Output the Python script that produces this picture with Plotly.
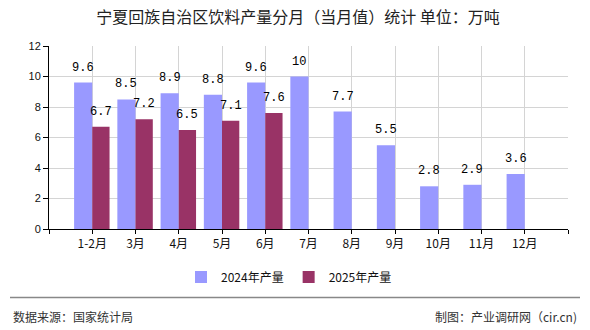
import plotly.graph_objects as go

categories = ["1-2月", "3月", "4月", "5月", "6月", "7月", "8月", "9月", "10月", "11月", "12月"]
values_2024 = [9.6, 8.5, 8.9, 8.8, 9.6, 10, 7.7, 5.5, 2.8, 2.9, 3.6]
values_2025 = [6.7, 7.2, 6.5, 7.1, 7.6]
series_names = ["2024年产量", "2025年产量"]
y_ticks = [0, 2, 4, 6, 8, 10, 12]

title_text = "宁夏回族自治区饮料产量分月（当月值）统计 单位：万吨"
source_text = "数据来源：国家统计局"
credit_text = "制图：产业调研网（cir.cn)"

pos = list(range(1, len(categories) + 1))
cjk = "Noto Sans CJK SC"
mono = "Liberation Mono"
colors = ["#9999FF", "#993366"]
offsets = [-0.42, 0.0]
widths = [0.42, 0.40]

fig = go.Figure()
series = [values_2024, values_2025]
annotations = []
for i, vals in enumerate(series):
    xs = pos[:len(vals)]
    fig.add_trace(go.Bar(
        x=xs, y=vals, name=series_names[i],
        marker=dict(color=colors[i], line=dict(width=0)),
        offset=offsets[i], width=widths[i],
        cliponaxis=False,
    ))
    for x, v in zip(xs, vals):
        annotations.append(dict(
            x=x + offsets[i] + widths[i] / 2, y=v, xref="x", yref="y",
            text=f"{v:g}", showarrow=False, yanchor="bottom", yshift=6,
            font=dict(family=mono, size=12, color="#000000"),
        ))

W, H = 590, 330
L, R, T, B = 49, 22, 46, 101
pw, ph = W - L - R, H - T - B

def px_x(x):
    return (x - L) / pw

def px_y(y):
    return (H - B - y) / ph

annotations += [
    dict(text=source_text, xref="paper", yref="paper",
         x=px_x(11), y=px_y(316), xanchor="left", yanchor="middle",
         showarrow=False, font=dict(family=cjk, size=12, color="#333333")),
    dict(text=credit_text, xref="paper", yref="paper",
         x=px_x(579), y=px_y(316), xanchor="right", yanchor="middle",
         showarrow=False, font=dict(family=cjk, size=12, color="#333333")),
]

fig.update_layout(
    width=W, height=H,
    margin=dict(l=L, r=R, t=T, b=B, pad=0),
    paper_bgcolor="white", plot_bgcolor="white",
    barmode="overlay",
    title=dict(text=title_text, x=0.505, xanchor="center", xref="container",
               y=1 - 17 / H, yanchor="middle", yref="container",
               font=dict(family=cjk, size=16, color="#222222")),
    font=dict(family=cjk, size=12, color="#222222"),
    showlegend=True,
    legend=dict(orientation="h", x=px_x(289), xanchor="center",
                y=px_y(277), yanchor="middle",
                font=dict(family=cjk, size=12, color="#111111"),
                itemwidth=30, traceorder="normal",
                bgcolor="rgba(0,0,0,0)"),
    xaxis=dict(
        range=[0, 12], tickmode="array",
        tickvals=list(range(0, 13)),
        ticktext=[""] + categories + [""],
        showgrid=True, gridcolor="#d4d4d4", gridwidth=1,
        showline=True, linecolor="#000000", linewidth=1,
        ticks="outside", ticklen=4, tickcolor="#000000",
        tickfont=dict(family=cjk, size=12, color="#111111"),
        zeroline=False, fixedrange=True,
    ),
    yaxis=dict(
        range=[0, 12], tickmode="array", tickvals=y_ticks,
        showgrid=True, gridcolor="#d4d4d4", gridwidth=1,
        showline=True, linecolor="#000000", linewidth=1,
        ticks="outside", ticklen=5, tickcolor="#000000",
        tickfont=dict(family="Liberation Sans", size=11, color="#111111"),
        zeroline=False, fixedrange=True,
    ),
    shapes=[dict(type="line", xref="paper", yref="paper",
                 x0=px_x(10), x1=px_x(580), y0=px_y(297.5), y1=px_y(297.5),
                 line=dict(color="#888888", width=1.5))],
    annotations=annotations,
)

fig.write_html("out.html")
